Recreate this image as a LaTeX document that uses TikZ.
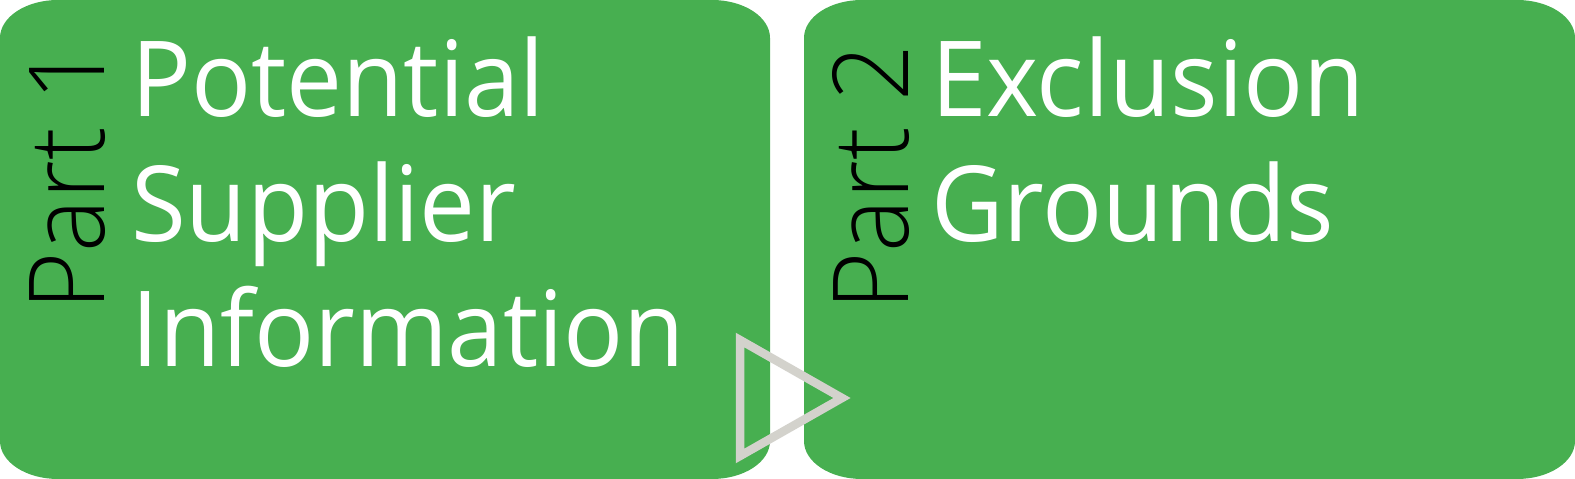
\documentclass[tikz,border=0pt]{standalone}
\usepackage{fontspec}
\setmainfont[FakeStretch=0.95]{Open Sans}
\newfontfamily\partfont[FakeStretch=0.95]{Open Sans Light}
\definecolor{boxgreen}{RGB}{71,175,80}
\definecolor{tri}{RGB}{211,210,204}
\begin{document}
\begin{tikzpicture}[x=1pt,y=1pt,
  title/.style={anchor=base west,inner sep=0pt,text=white,font=\fontsize{105}{125}\selectfont},
  partlabel/.style={anchor=base west,inner sep=0pt,text=black,rotate=90,font=\partfont\fontsize{105}{125}\selectfont},
  greenbox/.style={fill=boxgreen,draw=none}]
\useasboundingbox (0,0) rectangle (1575,479);
% boxes with elliptical corners
\def\rx{58}\def\ry{38}
\path[greenbox] (0+\rx,479) -- (770-\rx,479)
  arc[start angle=90,end angle=0,x radius=\rx,y radius=\ry] -- (770,\ry)
  arc[start angle=0,end angle=-90,x radius=\rx,y radius=\ry] -- (0+\rx,0)
  arc[start angle=270,end angle=180,x radius=\rx,y radius=\ry] -- (0,479-\ry)
  arc[start angle=180,end angle=90,x radius=\rx,y radius=\ry] -- cycle;
\path[greenbox] (804+\rx,479) -- (1575-\rx,479)
  arc[start angle=90,end angle=0,x radius=\rx,y radius=\ry] -- (1575,\ry)
  arc[start angle=0,end angle=-90,x radius=\rx,y radius=\ry] -- (804+\rx,0)
  arc[start angle=270,end angle=180,x radius=\rx,y radius=\ry] -- (804,479-\ry)
  arc[start angle=180,end angle=90,x radius=\rx,y radius=\ry] -- cycle;
% part labels
\node[partlabel] (p1) at (104,168) {Part 1};
\node[partlabel] (p2) at (908,168) {Part 2};
% titles
\node[title] (t1a) at (131,362) {Potential};
\node[title] (t1b) at (131,237) {Supplier};
\node[title] (t1c) at (131,112) {Information};
\node[title] (t2a) at (931,362) {Exclusion};
\node[title] (t2b) at (931,237) {Grounds};
% play triangle
\coordinate (ta) at (740,139);
\coordinate (tb) at (740,23);
\coordinate (tc) at (842,81);
\draw[draw=tri,line width=8.5pt,line join=miter] (ta) -- (tb) -- (tc) -- cycle;
\end{tikzpicture}
\end{document}
